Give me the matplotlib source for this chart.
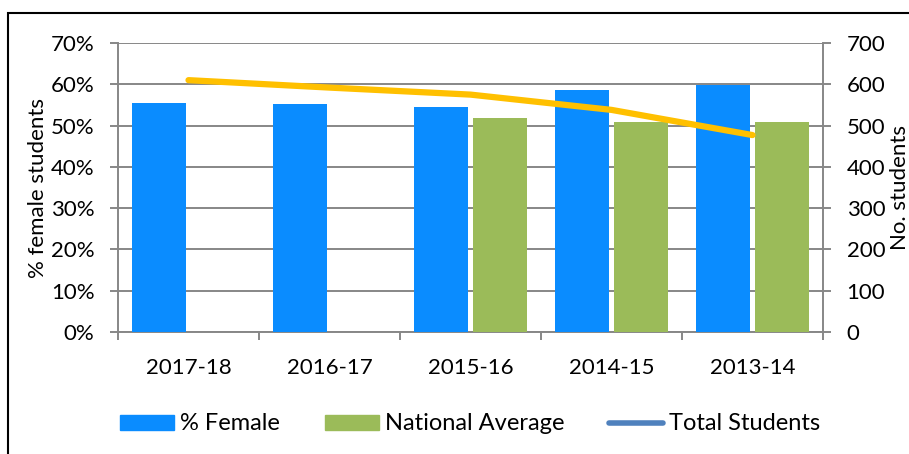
import matplotlib.pyplot as plt
import matplotlib.patches as mpatches
from matplotlib.lines import Line2D
import numpy as np

plt.rcParams['font.family'] = ['Lato', 'DejaVu Sans']

# dados
anos = ['2017-18', '2016-17', '2015-16', '2014-15', '2013-14']
pct_female = [55.4, 55.2, 54.6, 58.6, 59.8]
media_nacional = [np.nan, np.nan, 51.8, 50.9, 50.9]
total_alunos = [610, 592, 575, 538, 477]

cor_azul = '#0A8CFF'
cor_verde = '#9BBB59'
cor_linha = '#FFC000'
cor_cinza = '#878787'
fs = 16

fig = plt.figure(figsize=(9.09, 4.54), dpi=100)
ax = fig.add_axes([118 / 909, 1 - 332 / 454, 705 / 909, 289 / 454])

x = np.arange(len(anos))
w = 0.38
ax.bar(x - w / 2 - 0.02, pct_female, w, color=cor_azul, zorder=3)
ax.bar(x + w / 2 + 0.02, media_nacional, w, color=cor_verde, zorder=3)

ax.set_xlim(-0.5, len(anos) - 0.5)
ax.set_ylim(0, 70)
ax.set_yticks(range(0, 71, 10))
ax.set_yticklabels([f'{v}%' for v in range(0, 71, 10)])
ax.yaxis.grid(True, color=cor_cinza, linewidth=1.4, zorder=0)
ax.set_xticks(x)
ax.set_xticklabels(anos)
ax.set_xticks(np.arange(-0.5, len(anos)), minor=True)
ax.tick_params(axis='x', which='major', length=0, pad=19, labelsize=fs)
ax.tick_params(axis='x', which='minor', length=6, width=1.4, color=cor_cinza)
ax.tick_params(axis='y', length=6, width=1.4, color=cor_cinza, pad=11, labelsize=fs)
for lado in ['left', 'bottom', 'right']:
    ax.spines[lado].set_color(cor_cinza)
    ax.spines[lado].set_linewidth(1.4)
ax.spines['top'].set_visible(False)
ax.set_ylabel('% female students', fontsize=fs, labelpad=2)

ax2 = ax.twinx()
ax2.plot(x, total_alunos, color=cor_linha, linewidth=4.5, solid_capstyle='round', zorder=4)
ax2.set_ylim(0, 700)
ax2.set_yticks(range(0, 701, 100))
ax2.tick_params(axis='y', length=6, width=1.4, color=cor_cinza, pad=11, labelsize=fs)
for lado in ['left', 'bottom', 'right', 'top']:
    ax2.spines[lado].set_visible(False)
ax2.set_ylabel('No. students', fontsize=fs, labelpad=3)

# legenda
handles = [
    mpatches.Patch(color=cor_azul, label='% Female'),
    mpatches.Patch(color=cor_verde, label='National Average'),
    Line2D([0], [0], color='#4F81BD', linewidth=4, solid_capstyle='round', label='Total Students'),
]
fig.legend(handles=handles, loc='center', bbox_to_anchor=(470 / 909, 1 - 424 / 454),
           ncol=3, frameon=False, fontsize=17, handlelength=2.3, handleheight=0.62,
           handletextpad=0.25, columnspacing=1.9)

# moldura externa
fig.patches.append(mpatches.Rectangle((8 / 909, -0.1), 1.2, 1 - 13 / 454 + 0.1,
                                      transform=fig.transFigure, fill=False,
                                      edgecolor='black', linewidth=1.5))

fig.savefig('out.png', dpi=100)
